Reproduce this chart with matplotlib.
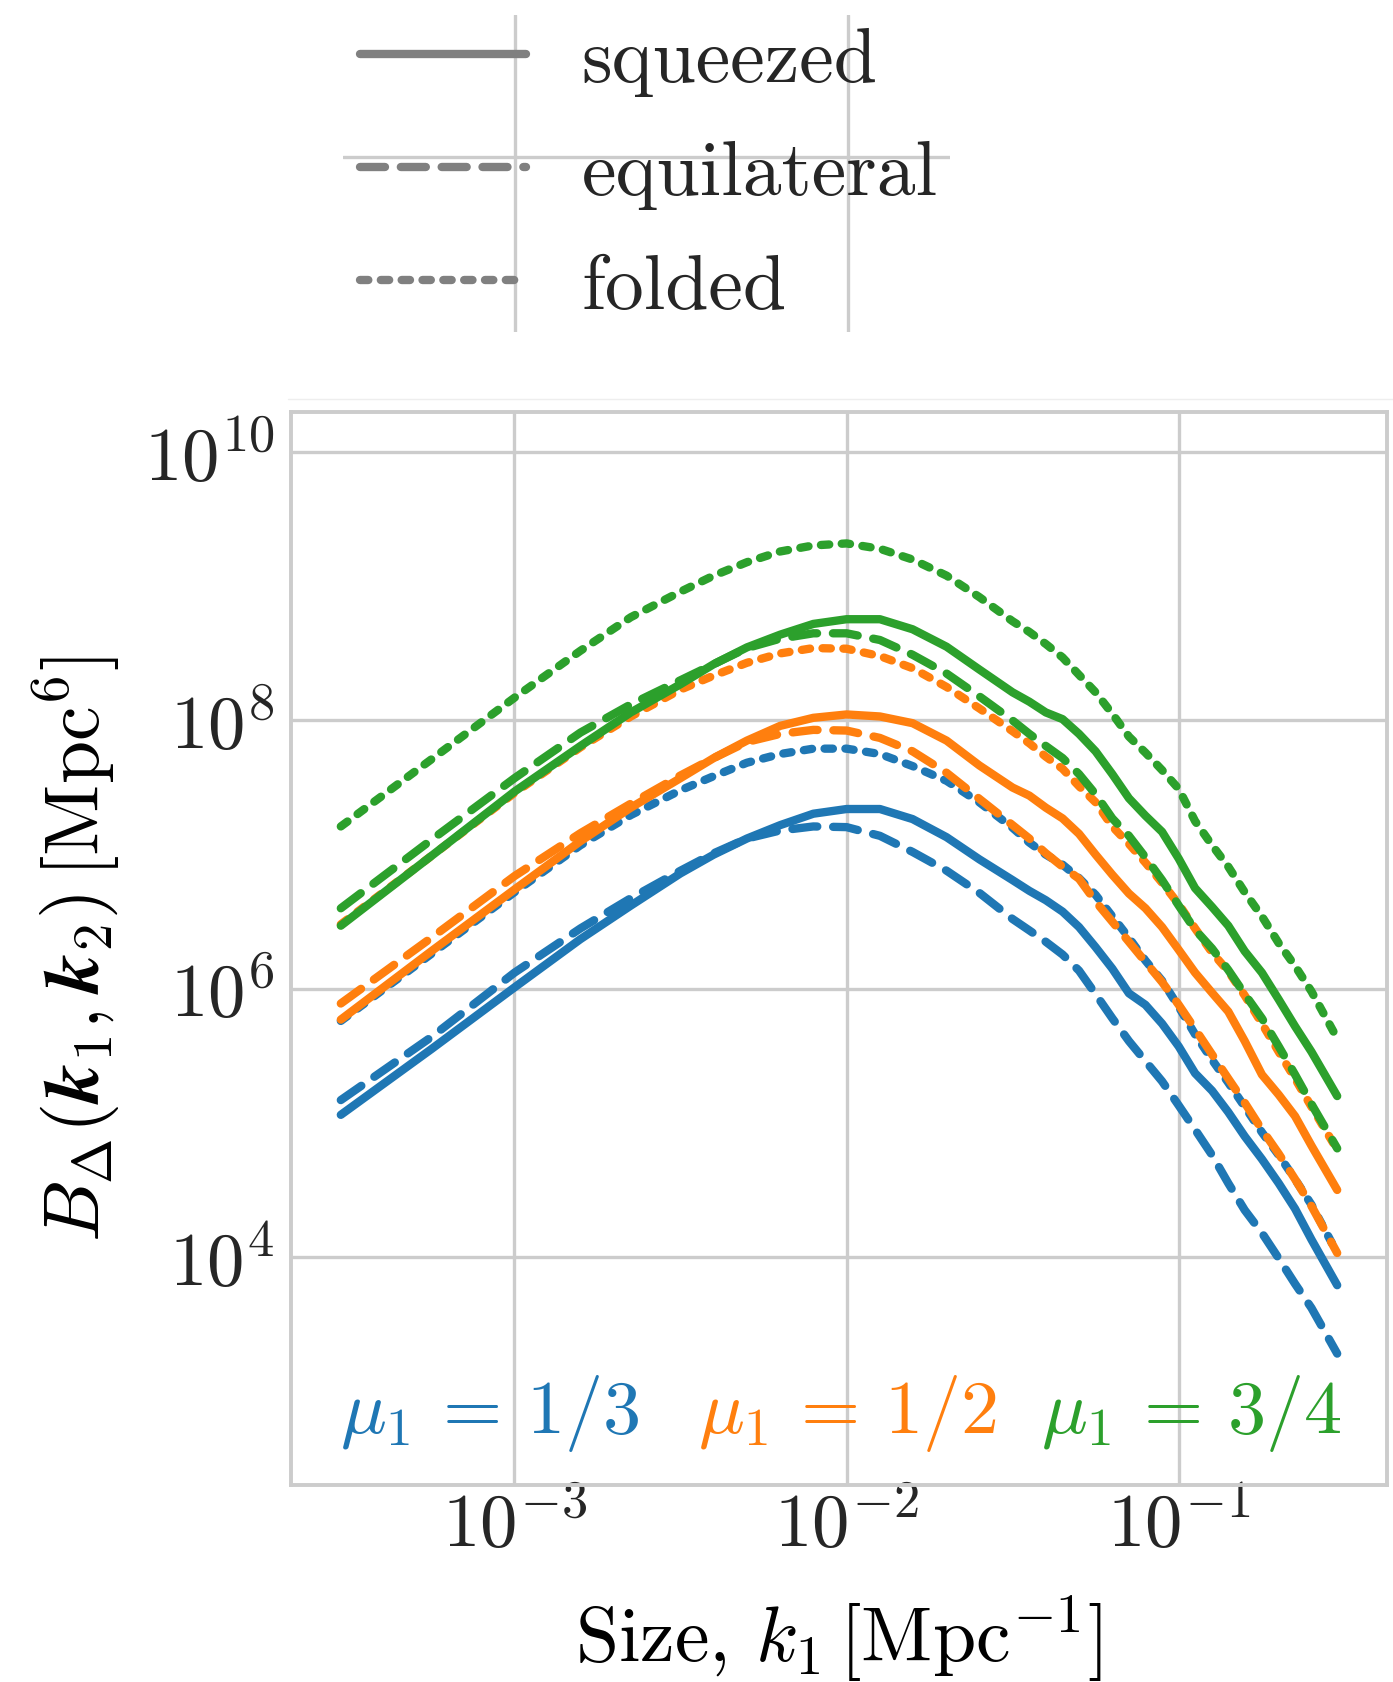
import numpy as np
import matplotlib
matplotlib.use("Agg")
import matplotlib.pyplot as plt
from matplotlib.lines import Line2D
from matplotlib.ticker import FuncFormatter, NullLocator

# k grid [Mpc^-1]
k1 = [3.0e-4, 5.62e-4, 1.0e-3, 1.58e-3, 2.24e-3, 3.16e-3, 3.98e-3, 5.01e-3, 6.31e-3, 7.94e-3,
      1.0e-2, 1.26e-2, 1.58e-2, 2.0e-2, 2.51e-2, 3.16e-2, 3.55e-2, 3.98e-2, 4.47e-2, 5.01e-2,
      5.62e-2, 6.31e-2, 7.08e-2, 7.94e-2, 8.91e-2, 0.1, 0.112, 0.126, 0.141, 0.158,
      0.178, 0.2, 0.224, 0.251, 0.3]

# log10 of B [Mpc^6]
mu13_squeezed = [5.06, 5.55, 6.01, 6.37, 6.62, 6.86, 7.00, 7.12, 7.22, 7.305,
                 7.34, 7.34, 7.265, 7.13, 6.965, 6.81, 6.73, 6.66, 6.575, 6.46,
                 6.31, 6.15, 5.966, 5.88, 5.74, 5.57, 5.37, 5.24, 5.08, 4.90,
                 4.73, 4.55, 4.36, 4.13, 3.79]
mu13_equilateral = [5.17, 5.64, 6.12, 6.45, 6.675, 6.88, 7.01, 7.12, 7.18, 7.21,
                    7.205, 7.14, 7.02, 6.88, 6.715, 6.52, 6.435, 6.35, 6.255, 6.135,
                    5.96, 5.78, 5.61, 5.46, 5.31, 5.13, 4.95, 4.76, 4.55, 4.35,
                    4.18, 3.99, 3.80, 3.62, 3.28]
mu13_folded = [5.76, 6.26, 6.72, 7.07, 7.295, 7.48, 7.585, 7.685, 7.75, 7.79,
               7.79, 7.75, 7.66, 7.55, 7.39, 7.20, 7.09, 7.00, 6.925, 6.825,
               6.70, 6.54, 6.38, 6.21, 6.06, 5.865, 5.66, 5.47, 5.30, 5.12,
               4.93, 4.76, 4.58, 4.39, 4.03]

mu12_squeezed = [5.77, 6.28, 6.74, 7.10, 7.35, 7.57, 7.72, 7.85, 7.96, 8.02,
                 8.045, 8.03, 7.98, 7.85, 7.665, 7.50, 7.44, 7.35, 7.27, 7.155,
                 7.00, 6.85, 6.71, 6.60, 6.46, 6.29, 6.12, 5.97, 5.83, 5.61,
                 5.36, 5.21, 5.05, 4.83, 4.50]
mu12_equilateral = [5.89, 6.38, 6.84, 7.16, 7.38, 7.59, 7.72, 7.84, 7.90, 7.93,
                    7.925, 7.87, 7.77, 7.61, 7.416, 7.22, 7.12, 7.01, 6.91, 6.82,
                    6.65, 6.50, 6.35, 6.20, 6.05, 5.88, 5.70, 5.51, 5.33, 5.15,
                    4.95, 4.77, 4.58, 4.38, 4.03]
mu12_folded = [6.48, 6.99, 7.46, 7.80, 8.03, 8.23, 8.335, 8.43, 8.50, 8.54,
               8.535, 8.48, 8.39, 8.25, 8.09, 7.92, 7.83, 7.73, 7.64, 7.51,
               7.39, 7.21, 7.08, 6.94, 6.79, 6.63, 6.45, 6.27, 6.13, 5.95,
               5.74, 5.53, 5.33, 5.12, 4.80]

mu34_squeezed = [6.47, 6.99, 7.47, 7.81, 8.06, 8.27, 8.42, 8.545, 8.64, 8.72,
                 8.755, 8.755, 8.68, 8.55, 8.38, 8.21, 8.14, 8.06, 8.01, 7.90,
                 7.77, 7.60, 7.42, 7.29, 7.17, 6.97, 6.75, 6.61, 6.47, 6.28,
                 6.12, 5.92, 5.72, 5.53, 5.20]
mu34_equilateral = [6.60, 7.11, 7.57, 7.91, 8.12, 8.30, 8.42, 8.54, 8.61, 8.65,
                    8.65, 8.60, 8.49, 8.35, 8.18, 8.00, 7.90, 7.81, 7.72, 7.60,
                    7.45, 7.27, 7.14, 6.98, 6.81, 6.62, 6.44, 6.30, 6.14, 5.96,
                    5.78, 5.57, 5.36, 5.14, 4.81]
mu34_folded = [7.21, 7.71, 8.17, 8.52, 8.77, 8.96, 9.08, 9.18, 9.26, 9.305,
               9.32, 9.28, 9.20, 9.08, 8.92, 8.74, 8.66, 8.57, 8.47, 8.34,
               8.21, 8.05, 7.88, 7.76, 7.63, 7.49, 7.25, 7.07, 6.91, 6.72,
               6.54, 6.34, 6.17, 5.98, 5.63]

mu_labels = [r"$\mu_1\,=\,1/3$", r"$\mu_1\,=\,1/2$", r"$\mu_1\,=\,3/4$"]
shape_labels = ["squeezed", "equilateral", "folded"]
colors = ["#1f77b4", "#ff7f0e", "#2ca02c"]

series = [
    (mu13_squeezed, mu13_equilateral, mu13_folded),
    (mu12_squeezed, mu12_equilateral, mu12_folded),
    (mu34_squeezed, mu34_equilateral, mu34_folded),
]

plt.rcParams.update({
    "mathtext.fontset": "cm",
    "font.family": "cmr10",
    "axes.formatter.use_mathtext": True,
    "lines.dash_capstyle": "round",
    "lines.solid_capstyle": "round",
    "text.color": "#262626",
    "xtick.color": "#262626",
    "ytick.color": "#262626",
})

LW = 6.0
styles = [dict(linestyle="-"),
          dict(linestyle=(0, (3.0, 1.9))),
          dict(linestyle=(0, (1.0, 1.5)))]
FS = 54
GRID = "#cccccc"

fig = plt.figure(figsize=(13.93, 16.83), dpi=100)
ax = fig.add_axes([0.2089, 0.1171, 0.7868, 0.6376])

for col, curves in zip(colors, series):
    for vals, st in zip(curves, styles):
        ax.plot(k1, 10 ** np.array(vals), color=col, lw=LW, **st)

ax.set_xscale("log")
ax.set_yscale("log")
ax.set_ylim(2e2, 2e10)
ax.set_xticks([1e-3, 1e-2, 1e-1])
ax.set_yticks([1e4, 1e6, 1e8, 1e10])
ax.xaxis.set_minor_locator(NullLocator())
ax.yaxis.set_minor_locator(NullLocator())
fmt = FuncFormatter(lambda v, p: r"$10^{%d}$" % int(round(np.log10(v))))
ax.xaxis.set_major_formatter(fmt)
ax.yaxis.set_major_formatter(fmt)
ax.tick_params(length=0, labelsize=FS)
ax.tick_params(axis="x", pad=4)
ax.tick_params(axis="y", pad=12)
ax.grid(True, color=GRID, lw=2.4)
ax.set_axisbelow(True)
for s in ax.spines.values():
    s.set_color(GRID)
    s.set_linewidth(2.8)

ax.set_xlabel(r"$\mathrm{Size,}\,k_1\,[\mathrm{Mpc}^{-1}]$", fontsize=56)
ax.set_ylabel(r"$B_\Delta(\mathbfit{k}_1, \mathbfit{k}_2)\,[\mathrm{Mpc}^6]$", fontsize=56)
ax.xaxis.set_label_coords(0.5, -0.10)
ax.yaxis.set_label_coords(-0.153, 0.5)

for lab, col, xpos in zip(mu_labels, colors, [0.181, 0.508, 0.821]):
    ax.text(xpos, 0.049, lab, color=col, fontsize=55, ha="center", va="baseline",
            transform=ax.transAxes)

# legend panel above the plot
lax = fig.add_axes([0.2462, 0.8021, 0.4358, 0.1884])
lax.set_xscale("log")
lax.set_xlim(10 ** -3.517, 10 ** -1.693)
lax.set_ylim(0, 1)
lax.set_xticks([1e-3, 1e-2])
lax.set_yticks([0.552])
lax.xaxis.set_minor_locator(NullLocator())
lax.tick_params(length=0, labelbottom=False, labelleft=False)
lax.grid(True, color=GRID, lw=2.4)
for s in lax.spines.values():
    s.set_visible(False)

handles = [Line2D([], [], color="gray", lw=LW, **st) for st in styles]
lax.legend(handles, shape_labels, loc="center left", bbox_to_anchor=(0.028, 0.497),
           frameon=False, borderaxespad=0, borderpad=0, handlelength=2.13,
           handletextpad=0.72, labelspacing=0.566, prop={"family": "cmr10", "size": 56})

fig.add_artist(Line2D([0.207, 1.0], [0.7623, 0.7623], color="#eeeeee", lw=1,
                      transform=fig.transFigure))

fig.savefig("out.png", dpi=100)
